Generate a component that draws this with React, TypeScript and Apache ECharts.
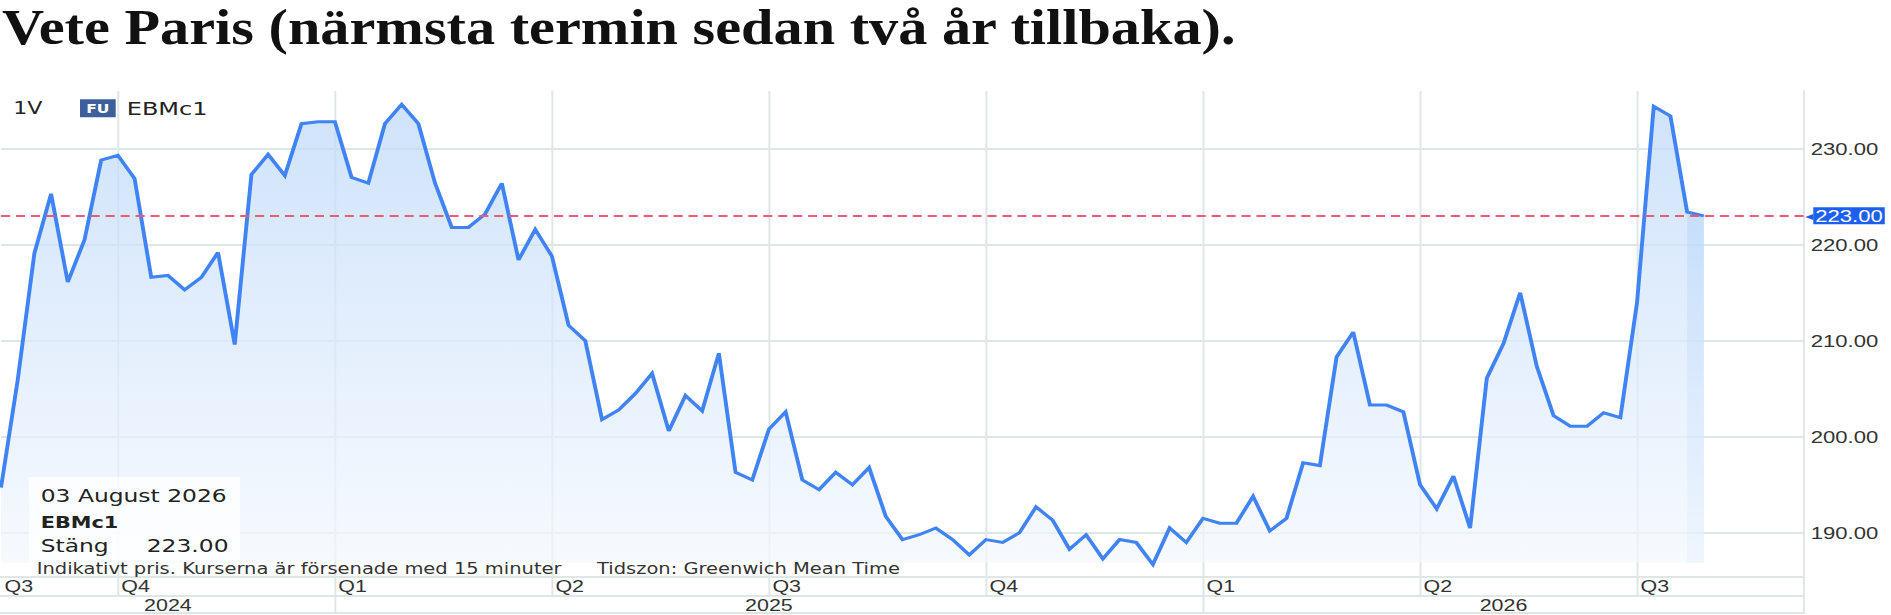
import React, { useEffect, useRef } from 'react';
import * as echarts from 'echarts';

// The reference picture is a screenshot stretched horizontally by about 1.3:
// the chart is laid out at base width and stretched with a CSS scaleX.
const PAGE_W = 1891;
const PAGE_H = 615;
const BASE_W = 1455;
const STRETCH = PAGE_W / BASE_W;
const fx = (x: number) => x / STRETCH; // page pixels -> base pixels

const TITLE = 'Vete Paris (närmsta termin sedan två år tillbaka).';
const PERIOD = '1V';
const BADGE = 'FU';
const SYMBOL = 'EBMc1';
const CLOSE_LABEL = 'Stäng';
const FOOTNOTE_1 = 'Indikativt pris. Kurserna är försenade med 15 minuter';
const FOOTNOTE_2 = 'Tidszon: Greenwich Mean Time';
const MONTHS = ['January', 'February', 'March', 'April', 'May', 'June', 'July', 'August', 'September', 'October', 'November', 'December'];

// weekly closes, first week 2024-08-19, last week 2026-08-03
const FIRST_WEEK = '2024-08-19';
const EXTRA_WEEKS = 6; // empty weeks on the right of the last close
const closes = [
  194.7, 205.9, 219.1, 225.3, 216.1, 220.5, 228.8, 229.3, 226.9, 216.6,
  216.8, 215.3, 216.6, 219.2, 209.6, 227.3, 229.4, 227.2, 232.6, 232.8,
  232.8, 227.0, 226.4, 232.6, 234.6, 232.6, 226.4, 221.8, 221.8, 223.2,
  226.4, 218.4, 221.6, 218.8, 211.6, 210.0, 201.8, 202.8, 204.5, 206.6,
  200.6, 204.3, 202.7, 208.7, 196.3, 195.5, 200.8, 202.6, 195.5, 194.5,
  196.3, 195.0, 196.8, 191.7, 189.3, 189.8, 190.5, 189.3, 187.7, 189.3,
  189.0, 190.0, 192.7, 191.3, 188.3, 189.8, 187.3, 189.3, 189.0, 186.7,
  190.5, 189.0, 191.5, 191.0, 191.0, 193.8, 190.2, 191.5, 197.3, 197.0,
  208.3, 210.9, 203.3, 203.3, 202.6, 195.0, 192.5, 195.9, 190.5, 206.1,
  209.7, 215.0, 207.3, 202.2, 201.1, 201.1, 202.5, 202.0, 214.0, 234.4,
  233.4, 223.4, 223.0,
];

const Y_TICKS = [190, 200, 210, 220, 230];
const Y_MIN = 185.4;
const Y_MAX = 236;
const AREA_BASE = 186.9;

const GRID_COLOR = '#dfe6e6';
const LINE_COLOR = '#3f83f4';
const LAST_COLOR = '#1d5ff0';

function buildOption() {
  const n = closes.length + EXTRA_WEEKS;
  const t0 = Date.parse(FIRST_WEEK + 'T00:00:00Z');
  const dates = Array.from({ length: n }, (_, i) => new Date(t0 + i * 7 * 86400000));
  const categories = dates.map((d) => d.toISOString().slice(0, 10));
  const quarter = (d: Date) => Math.floor(d.getUTCMonth() / 3) + 1;
  const year = (d: Date) => d.getUTCFullYear();
  const yearStart = (i: number) => i > 0 && year(dates[i]) !== year(dates[i - 1]);
  const quarterStart = (i: number) => i > 0 && (yearStart(i) || quarter(dates[i]) !== quarter(dates[i - 1]));
  const lastIdx = n - 1;
  const bounds = [0];
  for (let i = 1; i < n; i++) if (yearStart(i)) bounds.push(i);
  bounds.push(lastIdx);
  const yearLabelIdx = bounds.slice(0, -1).map((b, k) => Math.round((b + bounds[k + 1]) / 2));

  const lastI = closes.length - 1;
  const last = closes[lastI];
  const lastDate = dates[lastI];
  const lastDateText = `${String(lastDate.getUTCDate()).padStart(2, '0')} ${MONTHS[lastDate.getUTCMonth()]} ${lastDate.getUTCFullYear()}`;

  const mainData = categories.map((_, i) => (i < closes.length ? closes[i] : null));
  const bandData = categories.map((_, i) => (i >= lastI - 1 && i <= lastI ? closes[i] : null));

  const axisFont = { fontFamily: 'Liberation Sans', fontSize: 16.5, color: '#333' };

  const txt = (text: string, x: number, y: number, extra: any = {}) => ({
    type: 'text',
    x,
    y,
    z: 100,
    style: {
      text,
      fill: '#222',
      fontFamily: 'DejaVu Sans',
      fontSize: 18,
      textAlign: 'left',
      align: 'left',
      textVerticalAlign: 'middle',
      verticalAlign: 'middle',
      ...extra,
    },
  });

  const TITLE_SIZE = 50;

  return {
    animation: false,
    backgroundColor: '#ffffff',
    grid: {
      left: fx(1),
      top: 91,
      width: fx(1803),
      height: 486,
      containLabel: false,
      outerBoundsMode: 'none',
    },
    xAxis: [
      {
        type: 'category',
        data: categories,
        boundaryGap: false,
        position: 'bottom',
        axisLine: { show: true, lineStyle: { color: GRID_COLOR, width: 2 } },
        axisTick: {
          show: true,
          interval: (i: number) => quarterStart(i) || i === lastIdx,
          length: 19,
          lineStyle: { color: GRID_COLOR, width: 1.5 },
        },
        splitLine: {
          show: true,
          interval: (i: number) => quarterStart(i),
          lineStyle: { color: GRID_COLOR, width: 1.5 },
        },
        axisLabel: {
          show: true,
          interval: (i: number) => i === 0 || quarterStart(i),
          formatter: (_v: string, i: number) => 'Q' + quarter(dates[i]),
          align: 'left',
          verticalAlign: 'middle',
          margin: 9,
          padding: [0, 0, 0, fx(3.5)],
          ...axisFont,
        },
      },
      {
        type: 'category',
        data: categories,
        boundaryGap: false,
        position: 'bottom',
        offset: 19,
        axisLine: { show: true, lineStyle: { color: GRID_COLOR, width: 2 } },
        axisTick: {
          show: true,
          interval: (i: number) => yearStart(i) || i === lastIdx,
          length: 17,
          lineStyle: { color: GRID_COLOR, width: 1.5 },
        },
        splitLine: { show: false },
        axisLabel: {
          show: true,
          interval: (i: number) => yearLabelIdx.includes(i),
          formatter: (v: string) => v.slice(0, 4),
          align: 'center',
          verticalAlign: 'middle',
          margin: 9,
          ...axisFont,
        },
      },
      {
        type: 'category',
        data: categories,
        boundaryGap: false,
        position: 'bottom',
        offset: 36,
        axisLine: { show: true, lineStyle: { color: GRID_COLOR, width: 2 } },
        axisTick: { show: false },
        axisLabel: { show: false },
        splitLine: { show: false },
      },
    ],
    yAxis: {
      type: 'value',
      position: 'right',
      min: Y_MIN,
      max: Y_MAX,
      axisLine: { show: true, lineStyle: { color: GRID_COLOR, width: 1.5 } },
      axisTick: { show: false, customValues: Y_TICKS },
      axisLabel: {
        customValues: Y_TICKS,
        formatter: (v: number) => v.toFixed(2),
        margin: fx(6.7),
        fontFamily: 'Liberation Sans',
        fontSize: 17,
        color: '#333',
      },
      splitLine: { show: true, lineStyle: { color: GRID_COLOR, width: 2 } },
    },
    series: [
      {
        type: 'line',
        name: SYMBOL,
        data: mainData,
        xAxisIndex: 0,
        yAxisIndex: 0,
        symbol: 'none',
        showSymbol: false,
        z: 3,
        lineStyle: { color: LINE_COLOR, width: 3, join: 'miter', miterLimit: 3 },
        areaStyle: {
          origin: AREA_BASE,
          color: new echarts.graphic.LinearGradient(0, 0, 0, 1, [
            { offset: 0, color: '#bad7f9' },
            { offset: 0.5, color: '#d8e8fc' },
            { offset: 1, color: '#f3f8fe' },
          ]),
        },
        markLine: {
          silent: true,
          symbol: ['none', 'none'],
          data: [{ yAxis: last }],
          lineStyle: { color: '#ee5a78', width: 2, type: [7, 4.5] },
          label: {
            show: true,
            position: 'end',
            distance: 1,
            formatter: () => `{a|◀}{b|${last.toFixed(2)}}`,
            rich: {
              a: { color: LAST_COLOR, fontSize: 8, fontFamily: 'DejaVu Sans' },
              b: {
                color: '#ffffff',
                backgroundColor: LAST_COLOR,
                fontSize: 17,
                fontFamily: 'Liberation Sans',
                lineHeight: 19,
                padding: [0, 1.5, 0, 1.5],
              },
            },
          },
        },
      },
      {
        type: 'line',
        name: 'last',
        data: bandData,
        xAxisIndex: 0,
        yAxisIndex: 0,
        symbol: 'none',
        showSymbol: false,
        z: 2,
        lineStyle: { opacity: 0, width: 0 },
        areaStyle: {
          origin: AREA_BASE,
          color: new echarts.graphic.LinearGradient(0, 0, 0, 1, [
            { offset: 0, color: 'rgba(130,185,250,0.7)' },
            { offset: 1, color: 'rgba(130,185,250,0.3)' },
          ]),
        },
      },
    ],
    graphic: [
      {
        type: 'text',
        x: fx(2),
        y: 27.7,
        scaleX: (1.1 * 53) / TITLE_SIZE / STRETCH,
        z: 100,
        style: {
          text: TITLE,
          fill: '#111',
          fontFamily: 'Liberation Serif',
          fontWeight: 'bold',
          fontSize: TITLE_SIZE,
          textAlign: 'left',
          align: 'left',
          textVerticalAlign: 'middle',
          verticalAlign: 'middle',
        },
      },
      txt(PERIOD, fx(13.3), 108.3, { fontSize: 17 }),
      {
        type: 'rect',
        z: 100,
        shape: { x: fx(80), y: 99.3, width: fx(35.7), height: 18 },
        style: { fill: '#3f5f9c' },
      },
      txt(BADGE, fx(97.8), 108.5, { fontSize: 12, fontWeight: 'bold', fill: '#ffffff', textAlign: 'center', align: 'center' }),
      txt(SYMBOL, fx(126.7), 108.3, { fontSize: 18.5 }),
      {
        type: 'rect',
        z: 99,
        shape: { x: fx(29), y: 477, width: fx(211), height: 84 },
        style: { fill: 'rgba(255,255,255,0.72)' },
      },
      txt(lastDateText, fx(40.7), 496.3),
      txt(SYMBOL, fx(40.7), 522.3, { fontSize: 16, fontWeight: 'bold' }),
      txt(CLOSE_LABEL, fx(40.7), 546),
      txt(last.toFixed(2), fx(146.7), 546),
      txt(FOOTNOTE_1, fx(36.7), 568.7, { fontSize: 15, fill: '#333' }),
      txt(FOOTNOTE_2, fx(597), 568.7, { fontSize: 15, fill: '#333' }),
    ],
  };
}

export default function App() {
  const ref = useRef<HTMLDivElement>(null);
  useEffect(() => {
    if (!ref.current) return;
    const chart = echarts.init(ref.current, undefined, { renderer: 'svg' });
    chart.setOption(buildOption() as any);
    return () => chart.dispose();
  }, []);
  return (
    <div
      ref={ref}
      style={{
        position: 'fixed',
        left: 0,
        top: 0,
        width: BASE_W,
        height: PAGE_H,
        transform: `scaleX(${STRETCH})`,
        transformOrigin: '0 0',
        background: '#ffffff',
      }}
    />
  );
}
